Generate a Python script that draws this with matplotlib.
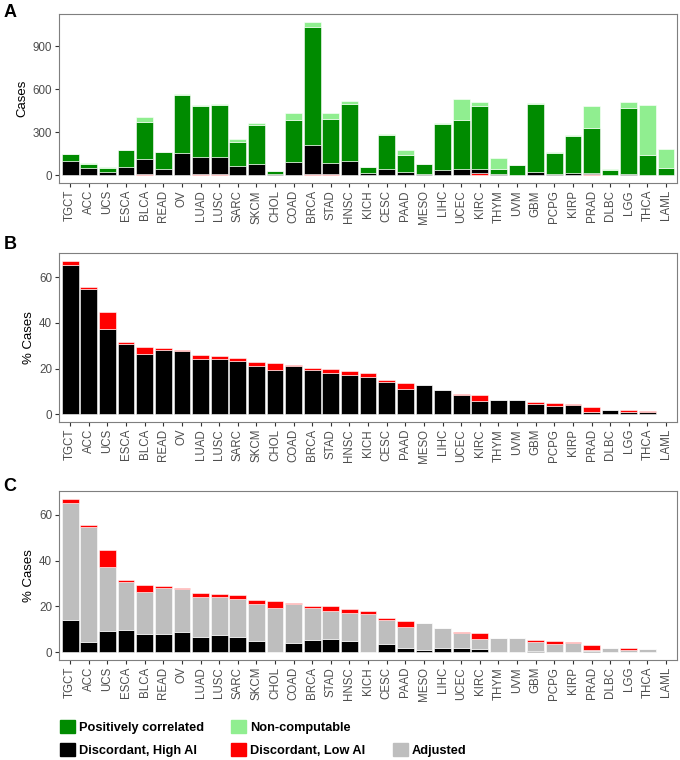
import numpy as np
import matplotlib
matplotlib.use("Agg")
import matplotlib.pyplot as plt
from matplotlib.patches import Patch

plt.rcParams['font.family'] = ['Liberation Sans', 'DejaVu Sans']

cancers = ["TGCT", "ACC", "UCS", "ESCA", "BLCA", "READ", "OV", "LUAD", "LUSC", "SARC",
           "SKCM", "CHOL", "COAD", "BRCA", "STAD", "HNSC", "KICH", "CESC", "PAAD", "MESO",
           "LIHC", "UCEC", "KIRC", "THYM", "UVM", "GBM", "PCPG", "KIRP", "PRAD", "DLBC",
           "LGG", "THCA", "LAML"]

# Panel A: case counts per category
low_ai_n = [3, 1, 4, 2, 12, 1, 2, 10, 8, 4, 4, 1, 2, 10, 8, 6, 1, 2, 4, 0,
            1, 2, 14, 0, 0, 2, 1, 1, 10, 0, 4, 1, 0]
high_ai_n = [94, 48, 17, 56, 104, 45, 155, 117, 117, 61, 79, 6, 93, 205, 80, 93, 13, 40, 19, 9,
             36, 44, 28, 7, 5, 23, 6, 13, 5, 1, 5, 4, 0]
pos_corr_n = [49, 34, 28, 118, 259, 114, 405, 354, 365, 169, 271, 25, 291, 822, 308, 398, 46, 243, 120, 74,
              322, 343, 439, 37, 69, 475, 146, 259, 316, 34, 458, 136, 51]
noncomp_n = [0, 5, 8, 4, 30, 2, 3, 12, 7, 20, 12, 0, 51, 34, 41, 23, 2, 7, 37, 0,
             9, 145, 33, 76, 0, 4, 7, 12, 155, 7, 42, 352, 136]

# Panel B/C: percentages
high_ai_pct = [65.1, 54.6, 37.1, 30.6, 26.2, 28.1, 27.5, 24.1, 24.1, 23.2,
               21.2, 19.4, 21.0, 19.4, 18.1, 17.0, 16.5, 13.9, 10.9, 12.6,
               10.4, 8.4, 5.7, 6.4, 6.1, 4.6, 3.8, 4.2, 1.0, 1.9,
               1.0, 1.2, 0.0]
low_ai_pct = [2.0, 1.2, 7.7, 1.0, 3.1, 1.0, 0.6, 2.0, 1.3, 1.6,
              1.7, 2.9, 0.7, 0.7, 1.9, 2.1, 1.6, 0.9, 2.6, 0.0,
              0.3, 0.3, 2.6, 0.0, 0.0, 0.6, 1.0, 0.3, 2.3, 0.0,
              0.7, 0.1, 0.0]
# Panel C: part of high-AI that stays discordant after adjustment
kept_pct = [14.0, 4.3, 9.1, 9.7, 7.9, 7.8, 8.8, 6.8, 7.6, 6.5,
            5.1, 0.0, 4.0, 5.3, 5.6, 4.8, 0.0, 3.8, 2.0, 1.0,
            2.0, 1.9, 1.4, 0.0, 0.0, 0.6, 0.0, 0.3, 0.4, 0.0,
            0.0, 0.0, 0.0]

GREEN = "#008B00"
LGREEN = "#90EE90"
RED = "#FF0000"
BLACK = "#000000"
GREY = "#BEBEBE"
TXT = "#4D4D4D"

x = np.arange(len(cancers))
W = 0.9
ec = dict(edgecolor="white", linewidth=0.4)

fig = plt.figure(figsize=(6.8, 7.6), dpi=100)


def style(ax, ylabel, yticks):
    ax.set_xlim(-0.6, len(cancers) - 0.4)
    ax.set_xticks(x)
    ax.set_xticklabels(cancers, rotation=90, fontsize=8.3, color=TXT)
    ax.set_yticks(yticks)
    ax.tick_params(axis="y", labelsize=8.4, labelcolor=TXT, color="#333333", length=3, pad=2)
    ax.tick_params(axis="x", color="#333333", length=3, pad=2)
    ax.set_ylabel(ylabel, fontsize=9.5, labelpad=3)
    for s in ax.spines.values():
        s.set_color("#7F7F7F")
        s.set_linewidth(0.8)


# A
axA = fig.add_axes([0.0868, 0.759, 0.909, 0.2224])
b = np.zeros(len(cancers))
for vals, col in [(low_ai_n, RED), (high_ai_n, BLACK), (pos_corr_n, GREEN), (noncomp_n, LGREEN)]:
    axA.bar(x, vals, W, bottom=b, color=col, **ec)
    b = b + np.array(vals)
axA.set_ylim(-54, 1124)
style(axA, "Cases", [0, 300, 600, 900])

# B
axB = fig.add_axes([0.0868, 0.4447, 0.909, 0.2224])
axB.bar(x, high_ai_pct, W, color=BLACK, **ec)
axB.bar(x, low_ai_pct, W, bottom=high_ai_pct, color=RED, **ec)
axB.set_ylim(-3.4, 70.5)
style(axB, "% Cases", [0, 20, 40, 60])

# C
axC = fig.add_axes([0.0868, 0.1316, 0.909, 0.2224])
adj = np.array(high_ai_pct) - np.array(kept_pct)
axC.bar(x, kept_pct, W, color=BLACK, **ec)
axC.bar(x, adj, W, bottom=kept_pct, color=GREY, **ec)
axC.bar(x, low_ai_pct, W, bottom=high_ai_pct, color=RED, **ec)
axC.set_ylim(-3.4, 70.5)
style(axC, "% Cases", [0, 20, 40, 60])

for lab, yy in [("A", 0.995), ("B", 0.69), ("C", 0.371)]:
    fig.text(0.005, yy, lab, fontsize=13, fontweight="bold", va="top")

# legend (column-major fill, one blank slot)
handles = [Patch(color=GREEN, label="Positively correlated"),
           Patch(color=BLACK, label="Discordant, High AI"),
           Patch(color=LGREEN, label="Non-computable"),
           Patch(color=RED, label="Discordant, Low AI"),
           Patch(color="none", label=""),
           Patch(color=GREY, label="Adjusted")]
fig.legend(handles=handles, ncol=3, loc="upper left", bbox_to_anchor=(0.088, 0.0525),
           frameon=False, prop={"weight": "bold", "size": 9.2}, handlelength=1.17,
           handleheight=1.17, handletextpad=0.3, columnspacing=2.15, labelspacing=0.75,
           borderpad=0, borderaxespad=0)

fig.savefig("out.png", dpi=100)
